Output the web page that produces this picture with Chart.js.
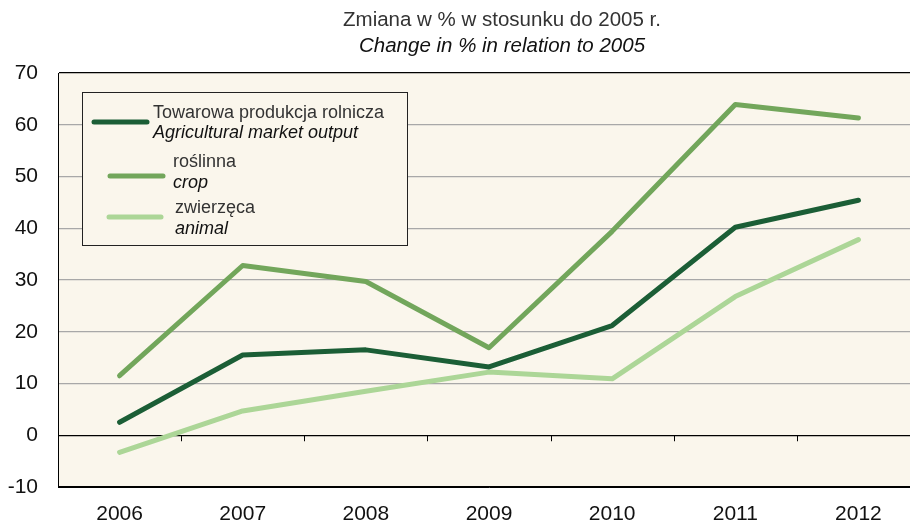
<!DOCTYPE html>
<html>
<head>
<meta charset="utf-8">
<script src="https://cdn.jsdelivr.net/npm/chart.js@4"></script>
<style>
  html, body { margin: 0; padding: 0; background: #fff; overflow: hidden; }
  #wrap { width: 920px; height: 522px; }
</style>
</head>
<body>
<div id="wrap"><canvas id="myChart" width="920" height="522"></canvas></div>
<script>
const years = ['2006', '2007', '2008', '2009', '2010', '2011', '2012'];
const total = [2.5, 15.5, 16.5, 13.2, 21.2, 40.2, 45.4];
const crop = [11.5, 32.8, 29.7, 16.9, 39.4, 63.9, 61.3];
const animal = [-3.3, 4.7, 8.5, 12.2, 10.9, 26.8, 37.8];

const legendItems = [
  { pl: 'Towarowa produkcja rolnicza', en: 'Agricultural market output', color: '#1b5e36' },
  { pl: 'roślinna', en: 'crop', color: '#72a65b' },
  { pl: 'zwierzęca', en: 'animal', color: '#acd697' }
];

const FONT = '"Liberation Sans", Arial, sans-serif';

const bgPlugin = {
  id: 'bg',
  beforeDraw(chart) {
    const { ctx, chartArea: a } = chart;
    ctx.save();
    ctx.fillStyle = '#faf6ec';
    ctx.fillRect(a.left, a.top, a.right - a.left, a.bottom - a.top);
    ctx.restore();
  }
};

const extras = {
  id: 'extras',
  afterDraw(chart) {
    const { ctx, scales } = chart;
    const x = scales.x, y = scales.y;
    ctx.save();
    // small ticks on the zero line
    const y0 = y.getPixelForValue(0);
    ctx.strokeStyle = '#000';
    ctx.lineWidth = 1;
    for (let i = 0; i < years.length - 1; i++) {
      const px = Math.round((x.getPixelForValue(i) + x.getPixelForValue(i + 1)) / 2) + 0.5;
      ctx.beginPath();
      ctx.moveTo(px, y0);
      ctx.lineTo(px, y0 + 6);
      ctx.stroke();
    }
    // title
    ctx.textAlign = 'center';
    ctx.textBaseline = 'middle';
    ctx.fillStyle = '#333';
    ctx.font = '20.5px ' + FONT;
    ctx.fillText('Zmiana w % w stosunku do 2005 r.', 502, 20);
    ctx.fillStyle = '#111';
    ctx.font = 'italic 20.5px ' + FONT;
    ctx.fillText('Change in % in relation to 2005', 502, 46);

    // legend box
    ctx.fillStyle = '#faf6ec';
    ctx.fillRect(82, 92, 325, 153);
    ctx.strokeStyle = '#222';
    ctx.lineWidth = 1;
    ctx.strokeRect(82.5, 92.5, 325, 153);
    const rows = [
      { x1: 94, x2: 147, ly: 122, tx: 153, t1: 113, t2: 133 },
      { x1: 110, x2: 163, ly: 176, tx: 173, t1: 162, t2: 183 },
      { x1: 109, x2: 161, ly: 217, tx: 175, t1: 208, t2: 229 }
    ];
    ctx.textAlign = 'left';
    rows.forEach((r, i) => {
      const it = legendItems[i];
      ctx.strokeStyle = it.color;
      ctx.lineWidth = 5;
      ctx.lineCap = 'round';
      ctx.beginPath();
      ctx.moveTo(r.x1, r.ly);
      ctx.lineTo(r.x2, r.ly);
      ctx.stroke();
      ctx.fillStyle = '#333';
      ctx.font = '18px ' + FONT;
      ctx.fillText(it.pl, r.tx, r.t1);
      ctx.fillStyle = '#111';
      ctx.font = 'italic 18px ' + FONT;
      ctx.fillText(it.en, r.tx, r.t2);
    });
    ctx.restore();
  }
};

const ctx = document.getElementById('myChart').getContext('2d');

new Chart(ctx, {
  type: 'line',
  data: {
    labels: years,
    datasets: [
      { label: legendItems[0].en, data: total, borderColor: legendItems[0].color },
      { label: legendItems[1].en, data: crop, borderColor: legendItems[1].color },
      { label: legendItems[2].en, data: animal, borderColor: legendItems[2].color }
    ]
  },
  options: {
    responsive: false,
    animation: false,
    layout: { padding: { top: 73, right: 0, left: 0, bottom: 0 } },
    elements: {
      line: { borderWidth: 5, tension: 0, borderCapStyle: 'round', borderJoinStyle: 'round' },
      point: { radius: 0 }
    },
    plugins: {
      legend: { display: false },
      tooltip: { enabled: false }
    },
    scales: {
      x: {
        offset: true,
        grid: { display: false, drawTicks: false },
        border: { display: true, color: '#000', width: 1 },
        ticks: {
          color: '#111',
          padding: 15,
          font: { family: FONT, size: 21 }
        },
        afterFit(s) { s.height = 35; }
      },
      y: {
        min: -10,
        max: 70,
        ticks: {
          stepSize: 10,
          color: '#111',
          padding: 20,
          font: { family: FONT, size: 21 }
        },
        grid: {
          drawTicks: false,
          color: c => (c.tick.value === 0 || c.tick.value === 70 || c.tick.value === -10) ? '#000' : '#a8a8a8',
          lineWidth: 1.2
        },
        border: { display: true, color: '#000', width: 1 },
        afterFit(s) { s.width = 58; }
      }
    }
  },
  plugins: [bgPlugin, extras]
});
</script>
</body>
</html>
